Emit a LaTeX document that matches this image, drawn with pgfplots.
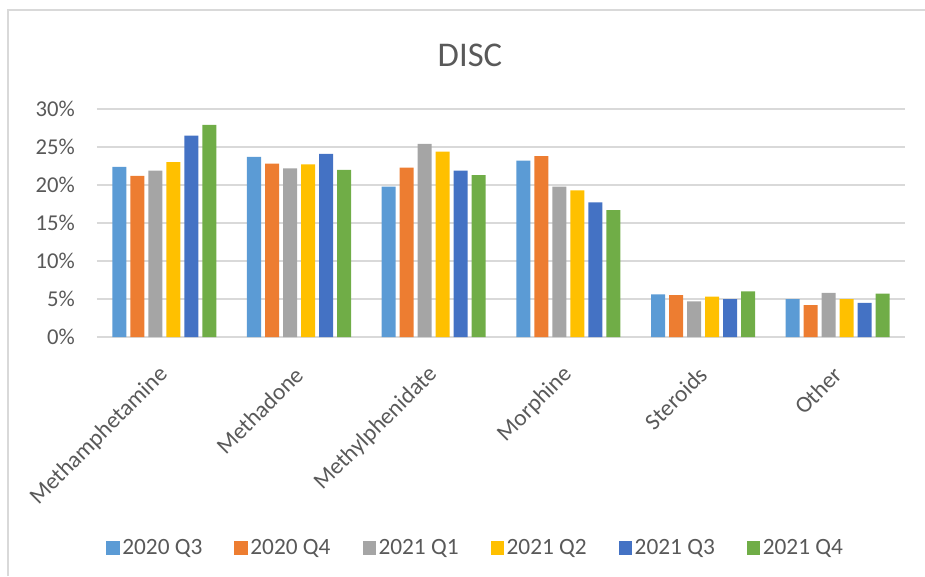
\documentclass[border=0pt]{standalone}
\usepackage{pgfplots}
\usepackage{pgfplotstable}
\pgfplotsset{compat=1.18}
\usepackage{fontspec}
\setmainfont{Carlito}

\definecolor{s1}{HTML}{5B9BD5}
\definecolor{s2}{HTML}{ED7D31}
\definecolor{s3}{HTML}{A5A5A5}
\definecolor{s4}{HTML}{FFC000}
\definecolor{s5}{HTML}{4472C4}
\definecolor{s6}{HTML}{70AD47}
\definecolor{txt}{HTML}{595959}
\definecolor{gridc}{HTML}{D9D9D9}

% shares in percent, one row per category
\pgfplotstableread{
x  qa    qb    qc    qd    qe    qf
0  22.4  21.2  21.9  23.0  26.5  27.9
1  23.7  22.8  22.2  22.7  24.1  22.0
2  19.8  22.3  25.4  24.4  21.9  21.3
3  23.2  23.8  19.8  19.3  17.7  16.7
4   5.6   5.5   4.7   5.3   5.0   6.0
5   5.0   4.2   5.8   5.0   4.5   5.7
}\disc

\begin{document}
\begin{tikzpicture}
\useasboundingbox (0,0) rectangle (693.75pt,432pt);
\draw[gridc, line width=1.5pt] (6pt,0) -- (6pt,424.5pt) -- (700pt,424.5pt);
\begin{axis}[
    at={(72.75pt,179.25pt)}, anchor=south west,
    scale only axis, width=606pt, height=171pt,
    ybar=3pt, bar width=10.5pt,
    xmin=-0.5, xmax=5.5, ymin=0, ymax=30,
    xtick=data,
    xticklabels={Methamphetamine, Methadone, Methylphenidate, Morphine, Steroids, Other},
    ytick={0,5,10,15,20,25,30},
    yticklabels={0\%,5\%,10\%,15\%,20\%,25\%,30\%},
    axis line style={draw=none},
    major tick length=0pt,
    ymajorgrids, grid style={gridc, line width=1pt},
    yticklabel style={font=\fontsize{17}{20}\selectfont, text=txt, anchor=east, inner sep=0pt},
    yticklabel shift=16.5pt,
    xticklabel style={font=\fontsize{17.5}{21}\selectfont, text=txt, inner sep=0pt,
        xshift=0pt, yshift=-25.5pt, rotate=45, anchor=east},
    title={DISC},
    title style={at={(0.4616,1.20)}, anchor=center, font=\fontsize{26}{30}\selectfont, text=txt},
    legend style={at={(0.469,-0.925)}, anchor=center, draw=none,
        font=\fontsize{17.5}{20}\selectfont, text=txt,
        /tikz/every even column/.append style={column sep=22pt}},
    legend columns=-1,
    legend image code/.code={\fill[#1] (0pt,-5pt) rectangle (10pt,5pt);},
    every axis plot/.append style={draw=none},
]
\addplot[fill=s1] table[x=x, y=qa] {\disc};
\addplot[fill=s2] table[x=x, y=qb] {\disc};
\addplot[fill=s3] table[x=x, y=qc] {\disc};
\addplot[fill=s4] table[x=x, y=qd] {\disc};
\addplot[fill=s5] table[x=x, y=qe] {\disc};
\addplot[fill=s6] table[x=x, y=qf] {\disc};
\legend{2020 Q3, 2020 Q4, 2021 Q1, 2021 Q2, 2021 Q3, 2021 Q4}
\end{axis}
\end{tikzpicture}
\end{document}
